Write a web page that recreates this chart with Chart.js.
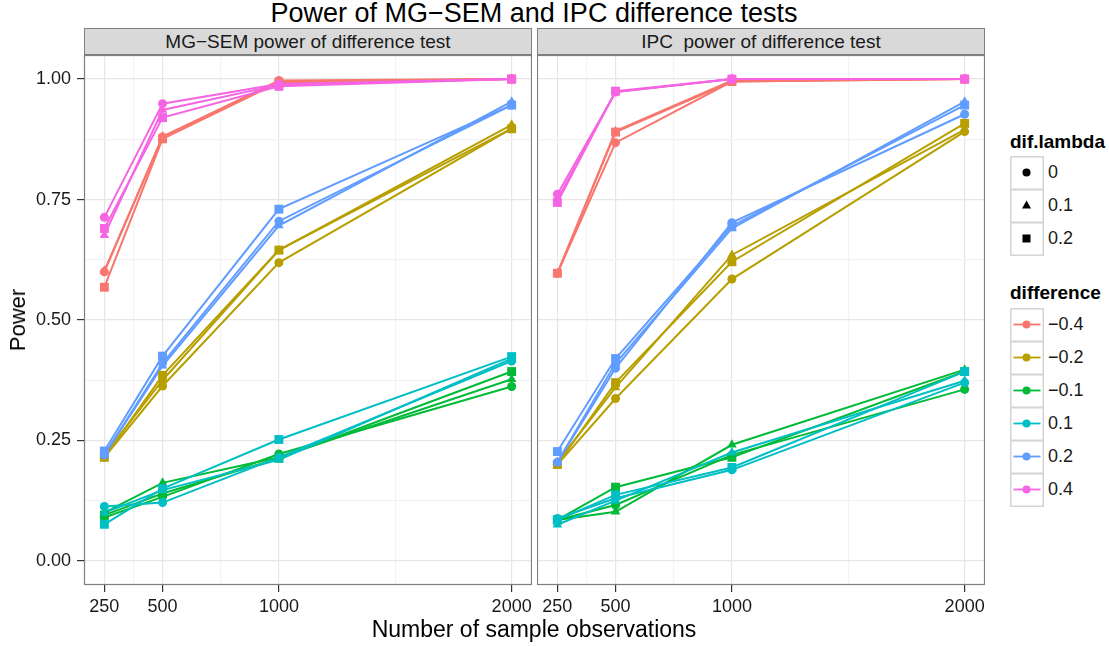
<!DOCTYPE html>
<html>
<head>
<meta charset="utf-8">
<script src="https://cdn.jsdelivr.net/npm/chart.js@4/dist/chart.umd.min.js"></script>
<style>
 body { margin: 0; width: 1109px; height: 646px; background: #fff; position: relative; overflow: hidden;
  font-family: "Liberation Sans", Arial, sans-serif; color: #000; }
 .abs { position: absolute; }
 #title { left: 84px; width: 900px; top: -2px; text-align: center; font-size: 27px; line-height: 30px; }
 .strip { top: 28px; height: 27px; background: #d9d9d9; border: 1px solid #7f7f7f; box-sizing: border-box;
  text-align: center; font-size: 19px; line-height: 25px; color: #1a1a1a; white-space: pre; }
 #xtitle { left: 84px; width: 900px; top: 616px; text-align: center; font-size: 23px; line-height: 26px; }
 #ytitle { left: 18px; top: 320px; font-size: 22px; transform: translate(-50%, -50%) rotate(-90deg); white-space: nowrap; }
 .ltitle { left: 1010px; font-size: 19px; font-weight: bold; line-height: 22px; }
 .lrow { left: 1010px; height: 33px; width: 100px; }
 .lrow svg { position: absolute; left: 0; top: 0; }
 .lrow span { position: absolute; left: 38px; top: 0; line-height: 33px; font-size: 18px; color: #1a1a1a; }
</style>
</head>
<body>
<div id="title" class="abs">Power of MG−SEM and IPC difference tests</div>
<div class="abs strip" style="left:84px;width:448px">MG−SEM power of difference test</div>
<div class="abs strip" style="left:537px;width:448px">IPC  power of difference test</div>
<canvas id="mgsem" class="abs" style="left:0;top:55px"></canvas>
<canvas id="ipc" class="abs" style="left:537px;top:55px"></canvas>
<div id="xtitle" class="abs">Number of sample observations</div>
<div id="ytitle" class="abs">Power</div>
<div id="legend"></div>
<script>
// x values and group labels
const nObs = [250, 500, 1000, 2000]
const difference = ["−0.4", "−0.2", "−0.1", "0.1", "0.2", "0.4"]
const difLambda = ["0", "0.1", "0.2"]

// MG-SEM power, rows = dif.lambda 0 / 0.1 / 0.2
const mgsemNeg04 = [[0.600, 0.880, 0.997, 1.000], [0.602, 0.881, 0.995, 1.000], [0.568, 0.876, 0.993, 1.000]]
const mgsemNeg02 = [[0.215, 0.363, 0.619, 0.897], [0.220, 0.375, 0.645, 0.905], [0.215, 0.385, 0.645, 0.897]]
const mgsemNeg01 = [[0.090, 0.133, 0.222, 0.362], [0.100, 0.162, 0.215, 0.377], [0.095, 0.140, 0.213, 0.393]]
const mgsemPos01 = [[0.113, 0.121, 0.215, 0.415], [0.100, 0.147, 0.210, 0.420], [0.076, 0.150, 0.252, 0.424]]
const mgsemPos02 = [[0.220, 0.410, 0.705, 0.946], [0.220, 0.405, 0.696, 0.953], [0.228, 0.425, 0.730, 0.946]]
const mgsemPos04 = [[0.713, 0.949, 0.990, 1.000], [0.676, 0.936, 0.988, 1.000], [0.690, 0.920, 0.985, 1.000]]

// IPC power
const ipcNeg04 = [[0.597, 0.868, 0.995, 1.000], [0.597, 0.892, 0.997, 1.000], [0.597, 0.890, 0.995, 1.000]]
const ipcNeg02 = [[0.200, 0.337, 0.585, 0.891], [0.205, 0.360, 0.635, 0.895], [0.200, 0.370, 0.621, 0.908]]
const ipcNeg01 = [[0.085, 0.116, 0.220, 0.356], [0.085, 0.102, 0.241, 0.397], [0.085, 0.153, 0.215, 0.393]]
const ipcPos01 = [[0.088, 0.130, 0.189, 0.370], [0.075, 0.125, 0.225, 0.374], [0.085, 0.137, 0.194, 0.393]]
const ipcPos02 = [[0.205, 0.400, 0.702, 0.927], [0.205, 0.410, 0.690, 0.953], [0.227, 0.420, 0.695, 0.946]]
const ipcPos04 = [[0.761, 0.973, 1.000, 1.000], [0.750, 0.973, 1.000, 1.000], [0.744, 0.975, 1.000, 1.000]]

const yMajor = [0, 0.25, 0.5, 0.75, 1]
const yMinor = [0.125, 0.375, 0.625, 0.875]
const xMinor = [375, 750, 1500]

const mgsemPower = [mgsemNeg04, mgsemNeg02, mgsemNeg01, mgsemPos01, mgsemPos02, mgsemPos04]
const ipcPower = [ipcNeg04, ipcNeg02, ipcNeg01, ipcPos01, ipcPos02, ipcPos04]

// styles
const colors = ["#F8766D", "#B79F00", "#00BA38", "#00BFC4", "#619CFF", "#F564E3"]
const shapes = ["circle", "triangle", "rect"]
const radii = [4.5, 5.5, 6.3]

const panelBorder = {
 id: "panelBorder",
 afterDraw(chart) {
  const a = chart.chartArea
  const ctx = chart.ctx
  ctx.save()
  ctx.strokeStyle = "#7f7f7f"
  ctx.lineWidth = 1.2
  ctx.strokeRect(a.left + 0.5, a.top + 0.5, a.right - a.left - 1, a.bottom - a.top - 1)
  ctx.restore()
 }
}

// no extra room for labels at the panel edges
function noPad(s) {
 s.paddingTop = 0
 s.paddingBottom = 0
 s.paddingLeft = 0
 s.paddingRight = 0
}

function makePanel(id, power, showY, width) {
 const lines = []
 const points = []
 power.forEach((rows, d) => {
  rows.forEach((vals, l) => {
   const pts = vals.map((v, i) => ({ x: nObs[i], y: v }))
   lines.push({ data: pts, borderColor: colors[d], borderWidth: 2, pointRadius: 0, order: 20 - d })
   points.push({ data: pts, showLine: false, pointStyle: shapes[l], pointRadius: radii[l],
    pointBackgroundColor: colors[d], pointBorderColor: colors[d], pointBorderWidth: 0, order: 10 - d })
  })
 })
 const canvas = document.getElementById(id)
 canvas.width = width
 canvas.height = 565
 canvas.style.width = width + "px"
 canvas.style.height = "565px"
 const isMajorX = v => nObs.includes(v)
 const isMajorY = v => yMajor.some(m => Math.abs(m - v) < 1e-9)
 return new Chart(canvas, {
  type: "line",
  data: { datasets: lines.concat(points) },
  options: {
   responsive: false,
   animation: false,
   events: [],
   layout: { padding: 0, autoPadding: false },
   plugins: { legend: { display: false }, tooltip: { enabled: false } },
   scales: {
    x: {
     type: "linear", min: 162.5, max: 2087.5,
     afterBuildTicks: s => { s.ticks = nObs.concat(xMinor).sort((a, b) => a - b).map(v => ({ value: v })) },
     afterFit: s => { s.height = 35; noPad(s) },
     border: { display: false },
     grid: {
      color: c => isMajorX(c.tick.value) ? "#e6e6e6" : "#f3f3f3",
      lineWidth: 1.2,
      tickLength: 7,
      tickColor: c => isMajorX(c.tick.value) ? "#333333" : "rgba(0,0,0,0)"
     },
     ticks: {
      autoSkip: false, maxRotation: 0, padding: 4, color: "#1a1a1a",
      font: { family: "Liberation Sans", size: 18 },
      callback: v => isMajorX(v) ? String(v) : ""
     }
    },
    y: {
     min: -0.05, max: 1.05,
     afterBuildTicks: s => { s.ticks = yMajor.concat(yMinor).sort((a, b) => a - b).map(v => ({ value: v })) },
     afterFit: s => { s.width = showY ? 84 : 0; noPad(s) },
     border: { display: false },
     grid: {
      color: c => isMajorY(c.tick.value) ? "#e6e6e6" : "#f3f3f3",
      lineWidth: 1.2,
      drawTicks: showY,
      tickLength: 7,
      tickColor: c => isMajorY(c.tick.value) ? "#333333" : "rgba(0,0,0,0)"
     },
     ticks: {
      display: showY, autoSkip: false, padding: 6, color: "#1a1a1a",
      font: { family: "Liberation Sans", size: 18 },
      callback: v => isMajorY(v) ? v.toFixed(2) : ""
     }
    }
   }
  },
  plugins: [panelBorder]
 })
}

makePanel("mgsem", mgsemPower, true, 532)
makePanel("ipc", ipcPower, false, 448)

// legend
const legend = document.getElementById("legend")
let html = '<div class="abs ltitle" style="top:131px">dif.lambda</div>'
difLambda.forEach((lab, l) => {
 const top = 156 + l * 33
 let sym = ""
 if (shapes[l] === "circle") sym = '<circle cx="16.5" cy="16.5" r="4" fill="#000"/>'
 if (shapes[l] === "triangle") sym = '<polygon points="16.5,11.5 21,19.5 12,19.5" fill="#000"/>'
 if (shapes[l] === "rect") sym = '<rect x="12.5" y="12.5" width="8" height="8" fill="#000"/>'
 html += '<div class="abs lrow" style="top:' + top + 'px"><svg width="34" height="34">' +
  '<rect x="0.75" y="0.75" width="32.5" height="32.5" fill="#fff" stroke="#d4d4d4" stroke-width="1.5"/>' +
  sym + '</svg><span>' + lab + '</span></div>'
})
html += '<div class="abs ltitle" style="top:282px">difference</div>'
difference.forEach((lab, d) => {
 const top = 308 + d * 33
 html += '<div class="abs lrow" style="top:' + top + 'px"><svg width="34" height="34">' +
  '<rect x="0.75" y="0.75" width="32.5" height="32.5" fill="#fff" stroke="#d4d4d4" stroke-width="1.5"/>' +
  '<line x1="3.5" y1="16.5" x2="30.5" y2="16.5" stroke="' + colors[d] + '" stroke-width="1.8"/>' +
  '<circle cx="16.5" cy="16.5" r="4" fill="' + colors[d] + '"/></svg><span>' + lab + '</span></div>'
})
legend.innerHTML = html
</script>
</body>
</html>
